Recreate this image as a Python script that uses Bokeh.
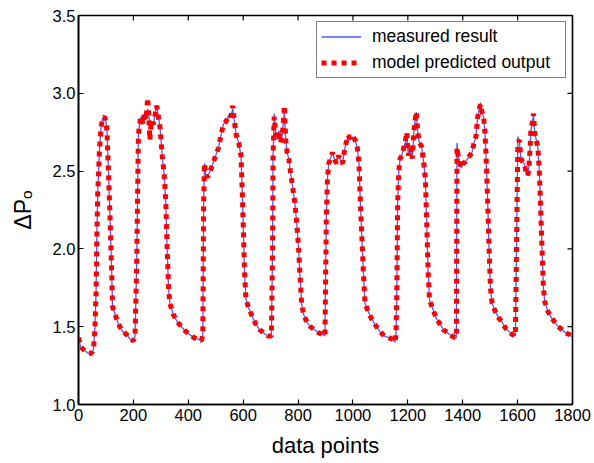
import math
from bokeh.plotting import figure
from bokeh.models import Legend, LegendItem, FixedTicker, Range1d, PrintfTickFormatter
from bokeh.embed import file_html
from bokeh.resources import INLINE

x_pts = [0, 8, 20, 35, 48, 55, 60, 64, 67, 70, 76, 82, 88, 95, 100, 104, 109, 115, 121, 124, 133, 145, 160, 175, 188, 200, 206,
         212, 215, 218, 222, 228, 235, 240, 246, 252, 256, 260, 265, 272, 278, 285, 291, 297, 305, 312, 318, 323, 328, 333, 345, 360, 375, 390, 405, 420, 435, 448, 453,
         456, 459, 463, 470, 480, 490, 500, 510, 518, 528, 538, 548, 555, 562, 568, 575, 584, 592, 597, 601, 605, 610, 620, 632, 645, 660, 675, 690, 703,
         707, 709, 713, 718, 724, 730, 736, 742, 746, 750, 755, 760, 766, 772, 780, 788, 796, 802, 808, 813, 820, 832, 845, 860, 875, 890, 898,
         903, 907, 912, 918, 925, 932, 940, 948, 955, 962, 968, 975, 983, 990, 1000, 1008, 1016, 1022, 1027, 1033, 1038, 1044, 1055, 1068, 1082, 1098, 1115, 1130, 1143, 1153, 1157,
         1160, 1163, 1167, 1172, 1178, 1185, 1190, 1196, 1202, 1210, 1216, 1222, 1228, 1231, 1236, 1242, 1250, 1258, 1264, 1269, 1274, 1279, 1290, 1302, 1316, 1330, 1345, 1360, 1372, 1377,
         1379, 1383, 1389, 1395, 1402, 1410, 1418, 1426, 1434, 1441, 1448, 1454, 1460, 1465, 1470, 1476, 1481, 1486, 1491, 1496, 1501, 1507, 1518, 1530, 1543, 1556, 1568, 1580, 1592,
         1598, 1601, 1606, 1612, 1618, 1624, 1630, 1636, 1640, 1644, 1648, 1654, 1658, 1662, 1668, 1674, 1679, 1684, 1689, 1694, 1699, 1710, 1722, 1735, 1748, 1762, 1775, 1788, 1800]

measured_y = [1.43, 1.37, 1.35, 1.33, 1.33, 1.36, 1.5, 1.72, 2.1, 2.35, 2.62, 2.78, 2.84, 2.85, 2.82, 2.75, 2.5, 2.2, 1.85, 1.63, 1.58, 1.52, 1.47, 1.45, 1.42, 1.41, 1.44,
              1.9, 2.3, 2.72, 2.8, 2.85, 2.8, 2.86, 2.83, 2.9, 2.86, 2.8, 2.82, 2.8, 2.85, 2.92, 2.85, 2.78, 2.6, 2.48, 2.3, 2.0, 1.75, 1.65, 1.58, 1.53, 1.5, 1.47, 1.45, 1.43, 1.42, 1.41, 1.45,
              2.3, 2.55, 2.48, 2.46, 2.5, 2.55, 2.6, 2.65, 2.72, 2.8, 2.82, 2.86, 2.85, 2.9, 2.82, 2.73, 2.68, 2.6, 2.35, 2.1, 1.85, 1.68, 1.62, 1.57, 1.52, 1.48, 1.46, 1.44, 1.44,
              2.0, 2.6, 2.87, 2.75, 2.7, 2.76, 2.7, 2.73, 2.8, 2.88, 2.7, 2.62, 2.58, 2.5, 2.4, 2.3, 2.15, 2.0, 1.8, 1.65, 1.58, 1.53, 1.5, 1.48, 1.46, 1.45, 1.44,
              2.2, 2.45, 2.55, 2.58, 2.62, 2.58, 2.55, 2.6, 2.56, 2.55, 2.62, 2.68, 2.73, 2.7, 2.72, 2.7, 2.65, 2.55, 2.3, 2.05, 1.85, 1.65, 1.6, 1.55, 1.51, 1.47, 1.44, 1.43, 1.42, 1.40, 1.45,
              1.75, 2.3, 2.5, 2.58, 2.6, 2.65, 2.68, 2.72, 2.6, 2.65, 2.58, 2.75, 2.85, 2.88, 2.75, 2.68, 2.66, 2.55, 2.45, 2.15, 1.85, 1.67, 1.62, 1.56, 1.52, 1.48, 1.46, 1.44, 1.43, 1.43,
              2.68, 2.6, 2.55, 2.52, 2.55, 2.56, 2.58, 2.6, 2.62, 2.68, 2.72, 2.84, 2.9, 2.94, 2.88, 2.85, 2.75, 2.55, 2.3, 2.0, 1.75, 1.65, 1.6, 1.56, 1.53, 1.49, 1.47, 1.45, 1.44,
              2.3, 2.72, 2.7, 2.58, 2.56, 2.55, 2.5, 2.47, 2.5, 2.6, 2.75, 2.82, 2.86, 2.75, 2.7, 2.65, 2.5, 2.25, 2.0, 1.75, 1.66, 1.6, 1.56, 1.53, 1.5, 1.48, 1.46, 1.45, 1.43]

predicted_y = [1.43, 1.37, 1.35, 1.33, 1.33, 1.36, 1.5, 1.72, 2.1, 2.35, 2.62, 2.78, 2.84, 2.85, 2.82, 2.75, 2.5, 2.2, 1.85, 1.63, 1.58, 1.52, 1.47, 1.45, 1.42, 1.41, 1.44,
               1.9, 2.3, 2.72, 2.8, 2.85, 2.8, 2.88, 2.83, 2.97, 2.86, 2.7, 2.82, 2.8, 2.85, 2.92, 2.85, 2.78, 2.6, 2.48, 2.3, 2.0, 1.75, 1.65, 1.58, 1.53, 1.5, 1.47, 1.45, 1.43, 1.42, 1.41, 1.45,
               2.3, 2.55, 2.48, 2.46, 2.5, 2.55, 2.6, 2.65, 2.72, 2.8, 2.82, 2.86, 2.85, 2.92, 2.82, 2.73, 2.68, 2.6, 2.35, 2.1, 1.85, 1.68, 1.62, 1.57, 1.52, 1.48, 1.46, 1.44, 1.44,
               2.0, 2.6, 2.85, 2.75, 2.7, 2.76, 2.68, 2.73, 2.8, 2.92, 2.7, 2.62, 2.58, 2.5, 2.4, 2.3, 2.15, 2.0, 1.8, 1.65, 1.58, 1.53, 1.5, 1.48, 1.46, 1.45, 1.44,
               2.2, 2.45, 2.55, 2.58, 2.62, 2.58, 2.55, 2.6, 2.56, 2.55, 2.62, 2.68, 2.73, 2.7, 2.72, 2.7, 2.65, 2.55, 2.3, 2.05, 1.85, 1.65, 1.6, 1.55, 1.51, 1.47, 1.44, 1.43, 1.42, 1.40, 1.45,
               1.75, 2.3, 2.5, 2.58, 2.6, 2.65, 2.68, 2.75, 2.6, 2.65, 2.58, 2.75, 2.85, 2.88, 2.75, 2.68, 2.66, 2.55, 2.45, 2.15, 1.85, 1.67, 1.62, 1.56, 1.52, 1.48, 1.46, 1.44, 1.43, 1.43,
               2.65, 2.6, 2.55, 2.52, 2.55, 2.56, 2.58, 2.6, 2.62, 2.68, 2.72, 2.84, 2.9, 2.93, 2.88, 2.85, 2.75, 2.55, 2.3, 2.0, 1.75, 1.65, 1.6, 1.56, 1.53, 1.49, 1.47, 1.45, 1.44,
               2.3, 2.68, 2.7, 2.58, 2.56, 2.55, 2.5, 2.47, 2.5, 2.6, 2.75, 2.82, 2.87, 2.75, 2.7, 2.65, 2.5, 2.25, 2.0, 1.75, 1.66, 1.6, 1.56, 1.53, 1.5, 1.48, 1.46, 1.45, 1.43]

x_ticks = [0, 200, 400, 600, 800, 1000, 1200, 1400, 1600, 1800]
y_ticks = [1.0, 1.5, 2.0, 2.5, 3.0, 3.5]
x_min, x_max = 0, 1800
y_min, y_max = 1.0, 3.5

FONT = "Liberation Sans"

p = figure(frame_width=494, frame_height=389, output_backend="svg", toolbar_location=None,
           x_range=Range1d(x_min, x_max), y_range=Range1d(y_min, y_max),
           min_border_left=78, min_border_right=22, min_border_top=15, min_border_bottom=59)
p.xgrid.visible = False
p.ygrid.visible = False
p.outline_line_color = "black"
p.outline_line_width = 1.6
p.background_fill_color = "white"
p.border_fill_color = "white"

r1 = p.line(x_pts, measured_y, line_color="#4d5dff", line_width=1.3)
r2 = p.line(x_pts, predicted_y, line_color="#ff0000", line_width=5, line_dash="5 5")

# inward ticks on top and right edges (box style)
p.ray(x=x_ticks, y=[y_max] * len(x_ticks), length=5, length_units="screen",
      angle=-math.pi / 2, line_color="black", line_width=1.2)
p.ray(x=[x_max] * len(y_ticks), y=y_ticks, length=5, length_units="screen",
      angle=math.pi, line_color="black", line_width=1.2)

for ax in (p.xaxis[0], p.yaxis[0]):
    ax.major_tick_in = 5
    ax.major_tick_out = 0
    ax.minor_tick_in = 0
    ax.minor_tick_out = 0
    ax.axis_line_color = "black"
    ax.axis_line_width = 1.6
    ax.major_tick_line_width = 1.2
    ax.major_label_text_font = FONT
    ax.major_label_text_font_size = "16.5px"
    ax.major_label_text_color = "black"
    ax.axis_label_text_font = FONT
    ax.axis_label_text_font_style = "normal"
    ax.axis_label_text_color = "black"

p.xaxis[0].ticker = FixedTicker(ticks=x_ticks)
p.yaxis[0].ticker = FixedTicker(ticks=y_ticks)
p.yaxis[0].formatter = PrintfTickFormatter(format="%.1f")
p.xaxis[0].major_label_standoff = 4
p.yaxis[0].major_label_standoff = 3
p.xaxis[0].axis_label = "data points"
p.xaxis[0].axis_label_text_font_size = "22px"
p.xaxis[0].axis_label_standoff = 9
p.yaxis[0].axis_label = "ΔPₒ"
p.yaxis[0].axis_label_text_font_size = "23px"
p.yaxis[0].axis_label_standoff = 14

legend = Legend(items=[LegendItem(label="measured result", renderers=[r1]),
                       LegendItem(label="model predicted output", renderers=[r2])],
                location="top_right", margin=6, padding=4, spacing=5,
                label_text_font=FONT, label_text_font_size="17.5px", label_text_color="black",
                glyph_width=40, glyph_height=17, label_height=17, label_width=189, label_standoff=11,
                border_line_color="black", border_line_width=1.2,
                background_fill_alpha=1.0)
p.add_layout(legend, "center")

open("out.html", "w").write(file_html(p, INLINE))
